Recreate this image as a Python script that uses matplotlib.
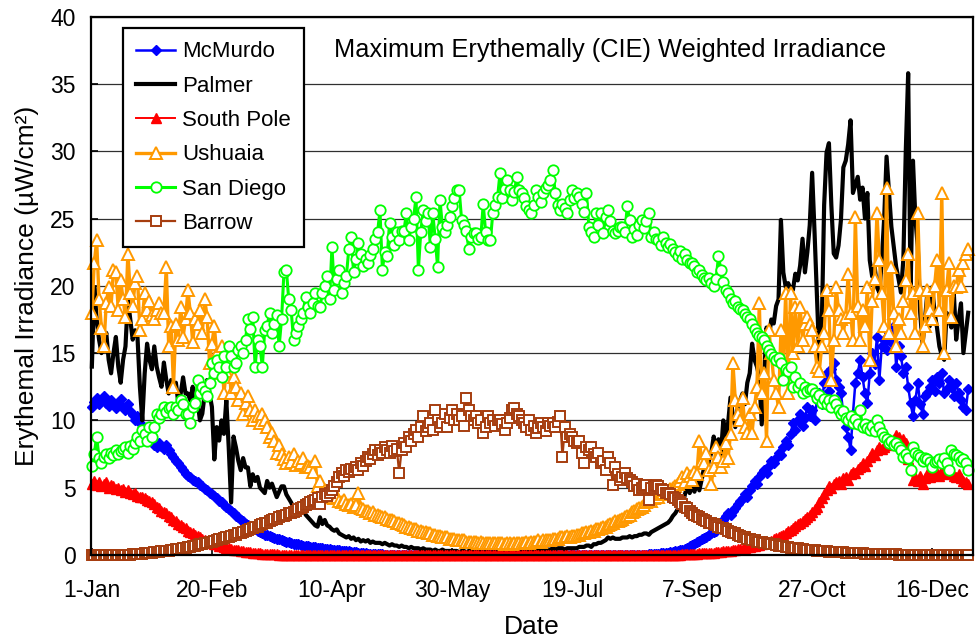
import numpy as np
import matplotlib
matplotlib.use("Agg")
import matplotlib.pyplot as plt

plt.rcParams['font.family'] = ['Liberation Sans', 'DejaVu Sans']

# ---------------- data (daily maxima, leap year, day 1 = 1-Jan) ----------------
tick_days = [1, 51, 101, 151, 201, 251, 301, 351]
tick_labels = ['1-Jan', '20-Feb', '10-Apr', '30-May', '19-Jul', '7-Sep', '27-Oct', '16-Dec']
y_ticks = [0, 5, 10, 15, 20, 25, 30, 35, 40]

mcmurdo = [
    11.0, 11.4, 11.7, 11.2, 11.5, 11.8, 11.3, 11.1, 11.5, 11.2,
    10.9, 11.3, 11.6, 11.0, 10.8, 11.2, 10.7, 10.4, 10.0, 10.3,
    9.8, 9.4, 9.0, 8.7, 9.1, 8.5, 8.2, 8.0, 8.3, 8.1,
    7.9, 8.2, 7.8, 7.5, 7.3, 7.0, 6.8, 6.5, 6.3, 6.0,
    5.9, 5.8, 5.6, 5.5, 5.4, 5.2, 5.1, 4.9, 4.8, 4.6,
    4.5, 4.4, 4.2, 4.0, 3.9, 3.7, 3.6, 3.4, 3.3, 3.1,
    2.9, 2.8, 2.6, 2.5, 2.3, 2.2, 2.1, 2.0, 1.9, 1.8,
    1.7, 1.6, 1.5, 1.45, 1.4, 1.3, 1.25, 1.2, 1.15, 1.1,
    1.05, 1.0, 0.95, 0.9, 0.85, 0.8, 0.78, 0.75, 0.7, 0.68,
    0.65, 0.62, 0.6, 0.57, 0.55, 0.52, 0.5, 0.47, 0.45, 0.42,
    0.4, 0.38, 0.36, 0.34, 0.32, 0.3, 0.28, 0.26, 0.24, 0.22,
    0.2, 0.18, 0.16, 0.14, 0.12, 0.1, 0.09, 0.08, 0.07, 0.06,
    0.05, 0.04, 0.03, 0.02, 0.01, 0, 0, 0, 0, 0,
    0, 0, 0, 0, 0, 0, 0, 0, 0, 0, 0, 0, 0, 0, 0, 0, 0, 0, 0, 0,
    0, 0, 0, 0, 0, 0, 0, 0, 0, 0, 0, 0, 0, 0, 0, 0, 0, 0, 0, 0,
    0, 0, 0, 0, 0, 0, 0, 0, 0, 0, 0, 0, 0, 0, 0, 0, 0, 0, 0, 0,
    0, 0, 0, 0, 0, 0, 0, 0, 0, 0, 0, 0, 0, 0, 0, 0, 0, 0, 0, 0,
    0, 0, 0, 0, 0, 0, 0, 0, 0, 0, 0, 0, 0, 0, 0, 0, 0, 0, 0, 0,
    0.02, 0.03, 0.04, 0.05, 0.06, 0.08, 0.1, 0.12, 0.14, 0.16,
    0.18, 0.2, 0.23, 0.26, 0.3, 0.35, 0.4, 0.48, 0.55, 0.65,
    0.75, 0.85, 0.95, 1.05, 1.15, 1.25, 1.35, 1.5, 1.6, 1.7,
    1.8, 2.0, 2.3, 2.6, 2.9, 3.1, 3.0, 3.3, 3.5, 3.8,
    4.0, 4.2, 4.5, 4.3, 4.8, 5.1, 5.5, 5.3, 5.8, 6.1,
    6.3, 6.1, 6.6, 7.0, 6.8, 7.2, 7.6, 7.4, 8.0, 8.5,
    8.2, 9.0, 9.8, 9.3, 10.0, 10.5, 9.6, 10.2, 11.0, 10.3,
    10.8, 10.0, 11.5, 12.0, 11.2, 12.8, 13.5, 12.2, 13.8, 14.3,
    13.0, 12.5, 12.0, 10.5, 9.5, 8.8, 7.8, 10.5, 12.8, 13.5,
    14.5, 13.2, 12.0, 11.3, 13.5, 15.0, 14.2, 16.2, 13.0, 15.5,
    16.0, 15.2, 16.5, 15.8, 17.0, 14.0, 15.5, 14.8, 13.5, 14.0,
    12.5, 11.3, 10.3, 11.5, 12.8, 11.2, 10.5, 11.8, 12.0, 12.5,
    13.0, 12.2, 13.2, 12.8, 13.5, 12.0, 12.3, 13.0, 12.5, 11.8,
    12.8, 12.0, 11.5, 11.0, 10.8, 12.3,
]

palmer = [
    14.0, 19.9, 17.5, 16.0, 15.0, 15.5, 16.5, 14.5, 13.5, 15.0,
    16.2, 14.0, 12.8, 14.5, 15.5, 19.0, 17.5, 16.0, 16.7, 16.2,
    12.5, 10.0, 13.5, 15.7, 14.5, 13.8, 15.5, 14.0, 13.2, 12.5,
    14.3, 13.0, 12.0, 13.0, 12.5, 12.8, 11.3, 12.0, 13.2, 12.0,
    12.0, 11.5, 12.5, 11.0, 11.5, 10.0, 10.5, 12.0, 13.0, 12.0,
    11.0, 7.1, 9.5, 8.5, 10.0, 9.0, 11.5, 8.0, 3.9, 8.8,
    8.0, 7.0, 6.3, 7.2, 6.5, 6.5, 5.1, 6.0, 5.5, 5.8,
    5.0, 4.8, 4.6, 5.5, 5.0, 5.3, 4.8, 4.3, 4.7, 5.1,
    5.1, 4.5, 4.2, 3.9, 3.5, 3.3, 3.1, 3.4, 3.6, 3.0,
    2.8, 2.6, 2.4, 2.2, 2.1, 2.8, 2.3, 2.6, 2.2, 2.1,
    1.9, 1.8, 1.9, 1.6, 1.5, 1.4, 1.3, 1.4, 1.2, 1.3,
    1.1, 1.2, 1.0, 1.1, 1.0, 1.1, 0.9, 1.0, 0.9, 0.9,
    0.9, 0.8, 0.9, 0.8, 0.7, 0.8, 0.7, 0.7, 0.6, 0.7,
    0.6, 0.6, 0.5, 0.6, 0.5, 0.5, 0.5, 0.4, 0.5, 0.4,
    0.4, 0.4, 0.3, 0.4, 0.3, 0.3, 0.4, 0.3, 0.3, 0.3,
    0.3, 0.3, 0.3, 0.2, 0.3, 0.3, 0.2, 0.3, 0.3, 0.2,
    0.2, 0.3, 0.2, 0.2, 0.3, 0.2, 0.2, 0.2, 0.3, 0.2,
    0.2, 0.2, 0.3, 0.2, 0.2, 0.3, 0.3, 0.2, 0.3, 0.3,
    0.3, 0.3, 0.3, 0.4, 0.3, 0.4, 0.4, 0.3, 0.4, 0.4,
    0.4, 0.4, 0.5, 0.4, 0.5, 0.5, 0.5, 0.4, 0.5, 0.5,
    0.5, 0.5, 0.5, 0.6, 0.6, 0.6, 0.7, 0.7, 0.6, 0.8,
    0.8, 0.9, 0.9, 1.0, 1.1, 1.3, 1.2, 1.3, 1.2, 1.2,
    1.2, 1.3, 1.3, 1.3, 1.4, 1.3, 1.4, 1.4, 1.5, 1.5,
    1.6, 1.6, 1.5, 1.7, 1.8, 1.9, 2.0, 2.1, 2.2, 2.3,
    2.4, 2.6, 2.9, 3.1, 3.4, 3.9, 3.6, 4.5, 5.1, 4.6,
    5.1, 4.7, 5.5, 4.8, 5.6, 6.5, 6.1, 7.0, 7.6, 8.8,
    8.0, 8.6, 7.5, 10.0, 8.5, 9.8, 11.7, 10.3, 9.5, 11.0,
    11.5, 12.0, 11.2, 12.8, 13.5, 15.7, 14.5, 14.0, 13.2, 9.7,
    13.2, 16.9, 16.2, 17.5, 17.2, 18.5, 19.0, 24.9, 21.0, 19.9,
    20.2, 19.8, 19.7, 20.9, 20.4, 21.5, 23.5, 21.0, 22.5, 24.5,
    28.4, 24.0, 19.3, 14.5, 16.9, 26.0, 29.9, 30.6, 26.0, 22.4,
    22.1, 23.0, 24.9, 28.8, 29.3, 30.5, 32.3, 26.9, 27.5, 28.1,
    26.4, 27.3, 25.0, 26.9, 21.9, 20.7, 21.5, 19.9, 19.5, 21.9,
    25.0, 29.6, 27.0, 24.4, 22.9, 21.4, 20.5, 19.5, 22.0, 30.0,
    35.8, 19.5, 29.3, 25.0, 22.9, 18.0, 15.7, 17.5, 19.5, 17.0,
    19.9, 18.0, 16.9, 15.5, 14.8, 14.5, 18.0, 17.5, 16.9, 19.5,
    16.0, 17.5, 18.7, 15.0, 16.5, 18.0,
]

south_pole = [
    5.3, 5.5, 5.2, 5.4, 5.1, 5.3, 5.4, 5.0, 5.2, 5.1,
    4.9, 5.0, 4.8, 4.9, 4.7, 4.8, 4.6, 4.5, 4.6, 4.4,
    4.3, 4.3, 4.2, 4.1, 4.0, 3.9, 3.8, 3.6, 3.5, 3.3,
    3.2, 3.1, 2.9, 2.8, 2.6, 2.5, 2.3, 2.2, 2.1, 2.0,
    1.8, 1.7, 1.6, 1.5, 1.4, 1.3, 1.2, 1.1, 1.0, 0.95,
    0.9, 0.85, 0.8, 0.7, 0.65, 0.6, 0.55, 0.5, 0.45, 0.4,
    0.37, 0.34, 0.31, 0.28, 0.25, 0.22, 0.2, 0.18, 0.16, 0.14,
    0.12, 0.1, 0.09, 0.08, 0.07, 0.06, 0.05, 0.04, 0.03, 0.02,
    0.01, 0, 0, 0, 0, 0, 0, 0, 0, 0,
    0, 0, 0, 0, 0, 0, 0, 0, 0, 0, 0, 0, 0, 0, 0, 0, 0, 0, 0, 0,
    0, 0, 0, 0, 0, 0, 0, 0, 0, 0, 0, 0, 0, 0, 0, 0, 0, 0, 0, 0,
    0, 0, 0, 0, 0, 0, 0, 0, 0, 0, 0, 0, 0, 0, 0, 0, 0, 0, 0, 0,
    0, 0, 0, 0, 0, 0, 0, 0, 0, 0, 0, 0, 0, 0, 0, 0, 0, 0, 0, 0,
    0, 0, 0, 0, 0, 0, 0, 0, 0, 0, 0, 0, 0, 0, 0, 0, 0, 0, 0, 0,
    0, 0, 0, 0, 0, 0, 0, 0, 0, 0, 0, 0, 0, 0, 0, 0, 0, 0, 0, 0,
    0, 0, 0, 0, 0, 0, 0, 0, 0, 0, 0, 0, 0, 0, 0, 0, 0, 0, 0, 0,
    0, 0, 0, 0, 0, 0, 0, 0, 0, 0,
    0.01, 0.01, 0.02, 0.02, 0.03, 0.03, 0.04, 0.05, 0.06, 0.07,
    0.08, 0.09, 0.1, 0.11, 0.12, 0.13, 0.14, 0.15, 0.16, 0.18,
    0.2, 0.22, 0.24, 0.26, 0.28, 0.3, 0.33, 0.36, 0.39, 0.42,
    0.45, 0.48, 0.52, 0.56, 0.6, 0.64, 0.68, 0.72, 0.77, 0.82,
    0.87, 0.93, 1.0, 1.07, 1.15, 1.23, 1.32, 1.42, 1.52, 1.63,
    1.75, 1.87, 2.0, 2.13, 2.27, 2.41, 2.55, 2.7, 2.85, 3.0,
    3.2, 3.4, 3.6, 3.9, 4.2, 4.5, 4.8, 5.1, 5.0, 5.3,
    5.4, 5.5, 5.3, 5.7, 5.8, 5.6, 6.0, 6.2, 6.1, 6.4,
    6.5, 6.8, 6.6, 7.0, 7.3, 7.6, 7.4, 7.8, 8.0, 7.9,
    8.0, 8.3, 8.5, 8.2, 8.6, 8.9, 8.8, 8.4, 8.6, 8.3,
    7.1, 6.5, 5.6, 5.8, 5.5, 5.9, 5.3, 5.7, 6.0, 5.8,
    6.0, 6.2, 6.1, 5.9, 6.3, 6.0, 6.3, 6.1, 6.2, 5.9,
    5.8, 6.0, 5.7, 5.5, 5.4, 5.3,
]

ushuaia = [
    18.0, 21.7, 23.4, 19.0, 16.9, 15.5, 18.7, 19.9, 18.5, 21.2,
    21.0, 18.2, 20.4, 19.0, 17.7, 22.4, 19.5, 18.5, 20.2, 20.7,
    16.7, 17.5, 19.5, 18.2, 18.9, 17.8, 17.5, 18.2, 18.7, 18.0,
    18.0, 21.4, 15.5, 17.0, 12.5, 17.2, 16.0, 18.4, 16.2, 17.5,
    19.7, 18.0, 15.8, 17.5, 17.2, 18.2, 16.5, 19.0, 17.7, 14.3,
    15.7, 17.0, 15.0, 13.5, 15.5, 12.0, 13.7, 14.5, 12.0, 13.2,
    12.5, 11.5, 12.0, 10.5, 11.3, 11.8, 10.8, 10.0, 10.8, 10.3,
    9.8, 10.5, 10.0, 9.5, 8.8, 9.1, 8.5, 7.6, 8.2, 7.5,
    7.1, 6.8, 7.3, 6.9, 7.5, 6.7, 7.0, 6.8, 7.2, 6.5,
    6.6, 6.5, 6.2, 7.0, 5.1, 5.5, 4.6, 4.8, 4.5, 4.3,
    4.3, 4.2, 4.3, 4.0, 3.9, 4.1, 3.8, 3.7, 3.8, 3.6,
    3.7, 4.6, 3.5, 3.4, 3.3, 3.3, 3.1, 3.2, 3.0, 3.0,
    2.9, 2.8, 2.8, 2.7, 2.6, 2.6, 2.5, 2.4, 2.4, 2.3,
    2.2, 2.1, 2.1, 2.0, 1.9, 1.9, 1.8, 1.8, 1.7, 1.7,
    1.6, 1.6, 1.5, 1.5, 1.4, 1.4, 1.3, 1.3, 1.3, 1.2,
    1.2, 1.2, 1.1, 1.1, 1.1, 1.1, 1.0, 1.0, 1.0, 1.0,
    1.0, 0.9, 1.0, 0.9, 0.9, 0.9, 0.9, 0.9, 0.9, 0.9,
    0.9, 0.9, 0.8, 0.9, 0.9, 0.8, 0.9, 0.9, 0.9, 0.9,
    0.9, 1.0, 0.9, 1.0, 1.0, 1.0, 1.1, 1.0, 1.1, 1.1,
    1.1, 1.1, 1.2, 1.2, 1.2, 1.3, 1.3, 1.3, 1.4, 1.3,
    1.4, 1.4, 1.5, 1.5, 1.6, 1.6, 1.7, 1.7, 1.8, 1.8,
    1.9, 1.9, 2.0, 2.1, 2.1, 2.2, 2.3, 2.4, 2.5, 2.5,
    2.6, 2.7, 2.8, 2.9, 3.0, 3.2, 3.3, 3.4, 3.5, 3.6,
    3.7, 3.9, 4.1, 4.0, 4.2, 4.4, 4.3, 4.5, 4.6, 4.8,
    4.7, 4.9, 5.0, 5.1, 5.3, 5.5, 5.8, 5.4, 6.1, 5.9,
    5.6, 6.2, 6.0, 8.5, 7.0, 6.8, 7.6, 6.3, 5.3, 6.5,
    8.0, 7.3, 6.5, 7.0, 8.3, 7.2, 9.0, 14.3, 11.5, 10.5,
    10.0, 11.7, 9.5, 9.1, 10.5, 9.1, 11.0, 12.5, 18.7, 12.0,
    13.5, 8.5, 16.7, 15.0, 13.0, 12.0, 11.0, 16.7, 14.5, 19.5,
    12.0, 19.5, 15.0, 18.4, 15.5, 18.4, 16.0, 17.2, 17.7, 17.2,
    16.7, 15.5, 14.0, 13.7, 15.5, 16.5, 19.7, 18.2, 13.0, 16.0,
    19.9, 18.2, 17.5, 16.5, 17.7, 20.9, 18.0, 16.0, 25.1, 18.5,
    16.0, 18.2, 17.0, 19.9, 14.5, 18.9, 20.5, 25.4, 21.9, 19.5,
    17.0, 27.3, 16.5, 21.4, 18.0, 15.5, 17.5, 16.5, 18.9, 20.4,
    22.4, 18.0, 19.5, 16.5, 25.4, 19.7, 15.5, 17.0, 19.7, 18.2,
    17.5, 20.0, 21.9, 18.2, 26.9, 15.0, 19.7, 21.7, 17.7, 20.0,
    19.9, 21.2, 20.0, 21.7, 22.4, 22.7,
]

san_diego = [
    6.6, 7.5, 8.8, 7.2, 6.8, 7.3, 7.5, 7.2, 7.6, 7.4,
    7.8, 7.5, 7.7, 7.9, 8.0, 7.6, 8.1, 7.9, 8.3, 8.8,
    8.5, 9.3, 9.0, 8.5, 9.5, 8.8, 9.5, 10.5, 10.2, 10.5,
    11.0, 10.6, 10.9, 11.0, 10.5, 11.0, 10.8, 11.5, 11.2, 10.5,
    10.5, 9.8, 11.0, 11.3, 13.0, 12.0, 12.5, 12.2, 11.8, 12.8,
    14.3, 13.5, 14.5, 14.0, 13.2, 14.8, 14.0, 15.5, 14.8, 14.0,
    14.3, 15.2, 15.5, 15.0, 16.0, 17.5, 16.8, 17.7, 14.0, 16.0,
    15.5, 14.0, 16.7, 17.0, 18.0, 16.5, 17.2, 17.8, 15.5, 17.5,
    21.0, 21.2, 19.0, 18.2, 16.0, 16.5, 17.0, 17.5, 18.0, 19.2,
    18.4, 18.0, 18.7, 19.5, 18.5, 18.4, 19.5, 20.0, 20.7, 19.0,
    22.9, 19.7, 20.5, 21.2, 19.5, 20.2, 20.7, 22.7, 23.6, 21.0,
    22.0, 23.2, 22.4, 21.5, 22.0, 21.7, 22.3, 22.7, 23.5, 24.0,
    25.6, 21.2, 22.5, 22.2, 24.7, 23.6, 23.0, 24.0, 23.4, 24.1,
    24.1, 25.4, 23.4, 24.4, 25.0, 26.6, 21.2, 24.0, 25.6, 24.8,
    25.4, 22.9, 25.4, 23.5, 21.4, 26.4, 24.4, 24.0, 24.5, 25.1,
    25.9, 26.5, 27.1, 27.1, 24.9, 24.5, 24.1, 22.7, 23.6, 23.9,
    23.9, 23.5, 23.6, 26.1, 24.0, 23.4, 23.4, 25.4, 26.0, 26.6,
    28.4, 26.5, 27.2, 27.9, 27.1, 26.4, 27.0, 28.1, 27.1, 26.9,
    26.5, 25.9, 25.6, 25.4, 26.0, 27.1, 26.6, 26.2, 26.9, 27.3,
    27.5, 27.9, 28.6, 26.9, 26.0, 25.6, 26.1, 25.8, 25.4, 26.4,
    27.1, 26.5, 26.9, 26.6, 26.1, 25.5, 26.9, 24.4, 24.0, 23.6,
    25.4, 24.5, 25.4, 23.9, 25.1, 25.6, 24.8, 24.1, 23.9, 24.1,
    24.4, 24.4, 24.0, 25.9, 24.9, 23.6, 24.2, 23.8, 24.5, 24.9,
    24.3, 24.8, 25.4, 23.6, 24.0, 23.5, 23.4, 23.0, 23.6, 23.2,
    22.9, 23.1, 22.7, 22.5, 22.2, 22.6, 22.0, 22.4, 21.9, 21.7,
    21.7, 21.5, 21.0, 21.2, 20.8, 20.6, 20.4, 20.6, 20.2, 20.0,
    20.5, 22.2, 21.2, 20.3, 19.7, 19.5, 19.0, 18.7, 18.9, 18.4,
    18.3, 18.2, 17.9, 17.7, 17.5, 17.2, 16.8, 16.5, 16.3, 16.2,
    16.0, 15.5, 15.2, 14.9, 14.7, 14.5, 14.6, 14.3, 13.0, 13.8,
    13.7, 14.0, 12.5, 13.2, 12.5, 12.8, 12.0, 12.5, 12.2, 12.3,
    12.3, 12.0, 11.7, 11.9, 11.3, 11.6, 11.2, 11.5, 11.0, 11.5,
    11.2, 10.8, 10.5, 10.7, 10.2, 10.0, 10.3, 9.8, 10.1, 9.7,
    10.8, 9.5, 9.7, 9.4, 9.3, 9.6, 9.2, 10.0, 9.5, 9.1,
    8.8, 8.6, 8.3, 8.5, 8.2, 8.3, 8.0, 7.8, 7.3, 7.5,
    7.2, 6.3, 8.0, 7.6, 7.4, 7.3, 7.0, 7.2, 7.1, 6.9,
    6.5, 6.9, 7.0, 7.1, 6.8, 7.2, 6.8, 6.3, 7.8, 7.5,
    7.4, 7.3, 7.0, 7.1, 6.8, 6.3,
]

barrow = [
    0, 0, 0, 0, 0, 0, 0, 0, 0, 0,
    0, 0, 0, 0, 0.01, 0.02, 0.03, 0.04, 0.05, 0.06,
    0.08, 0.1, 0.12, 0.14, 0.16, 0.18, 0.2, 0.22, 0.24, 0.26,
    0.28, 0.3, 0.33, 0.36, 0.39, 0.42, 0.45, 0.48, 0.51, 0.55,
    0.58, 0.62, 0.66, 0.7, 0.74, 0.78, 0.82, 0.86, 0.9, 0.95,
    1.0, 1.05, 1.1, 1.15, 1.2, 1.25, 1.3, 1.35, 1.4, 1.45,
    1.5, 1.6, 1.65, 1.7, 1.8, 1.85, 1.9, 2.0, 2.05, 2.1,
    2.2, 2.3, 2.35, 2.4, 2.5, 2.6, 2.65, 2.7, 2.8, 2.9,
    2.9, 3.0, 3.1, 3.15, 3.2, 3.3, 3.4, 3.5, 3.6, 3.7,
    3.8, 3.9, 4.0, 4.1, 4.2, 3.8, 4.3, 4.5, 4.4, 4.6,
    4.8, 5.1, 5.4, 5.8, 6.1, 5.9, 6.3, 6.2, 6.4, 6.3,
    6.5, 6.3, 6.8, 6.6, 7.0, 7.3, 7.1, 7.5, 7.8, 7.4,
    7.8, 7.6, 8.0, 7.8, 7.6, 8.1, 7.7, 7.9, 6.1, 7.8,
    8.3, 8.0, 8.8, 8.5, 9.0, 9.3, 8.8, 9.5, 10.3, 9.2,
    9.5, 9.8, 9.3, 10.8, 10.0, 9.5, 9.8, 10.5, 9.5, 10.2,
    10.8, 10.0, 10.5, 10.0, 10.3, 9.6, 11.7, 10.8, 10.3, 10.0,
    10.3, 9.8, 10.0, 9.1, 9.5, 10.3, 9.8, 10.0, 9.6, 10.0,
    10.0, 9.7, 9.3, 9.8, 10.2, 10.8, 10.9, 10.5, 10.3, 10.0,
    9.8, 9.5, 10.0, 9.3, 9.6, 9.1, 9.4, 9.8, 9.5, 9.2,
    9.8, 9.6, 9.8, 9.5, 9.9, 10.3, 7.3, 9.5, 8.8, 9.0,
    8.8, 8.5, 8.3, 8.5, 7.6, 6.8, 8.0, 7.8, 8.0, 7.5,
    7.3, 7.6, 6.8, 7.0, 6.3, 7.3, 6.8, 5.2, 6.5, 6.0,
    5.6, 5.8, 6.1, 5.7, 5.6, 5.4, 5.1, 5.3, 4.8, 5.0,
    5.1, 5.2, 4.1, 5.0, 5.1, 5.2, 5.1, 4.9, 4.8, 4.6,
    4.6, 4.5, 4.3, 4.2, 4.1, 3.9, 3.8, 3.6, 3.5, 3.3,
    3.1, 3.0, 2.9, 2.8, 2.7, 2.6, 2.5, 2.4, 2.4, 2.3,
    2.2, 2.1, 2.0, 2.0, 1.9, 1.8, 1.7, 1.6, 1.6, 1.5,
    1.4, 1.3, 1.3, 1.2, 1.2, 1.1, 1.1, 1.0, 1.0, 0.95,
    0.9, 0.9, 0.85, 0.8, 0.8, 0.75, 0.7, 0.7, 0.65, 0.6,
    0.6, 0.55, 0.55, 0.5, 0.5, 0.45, 0.45, 0.4, 0.4, 0.38,
    0.36, 0.34, 0.32, 0.3, 0.28, 0.27, 0.26, 0.25, 0.24, 0.23,
    0.22, 0.21, 0.2, 0.19, 0.18, 0.17, 0.16, 0.15, 0.14, 0.13,
    0.12, 0.11, 0.1, 0.1, 0.09, 0.09, 0.08, 0.08, 0.07, 0.07,
    0.06, 0.06, 0.05, 0.05, 0.04, 0.04, 0.03, 0.03, 0.02, 0.02,
    0.01, 0.01, 0.01, 0.01, 0.01, 0.01, 0.01, 0.01, 0.01, 0.01,
    0, 0, 0, 0, 0, 0, 0, 0, 0, 0,
    0, 0, 0, 0, 0, 0,
]

series_names = ['McMurdo', 'Palmer', 'South Pole', 'Ushuaia', 'San Diego', 'Barrow']

# ---------------- figure ----------------
fig = plt.figure(figsize=(9.77, 6.39), dpi=100)
ax = fig.add_axes([0.0928, 0.1315, 0.9031, 0.8424])


def days(s):
    return np.arange(1, len(s) + 1)


styles = [
    (mcmurdo, dict(color='#0000FF', marker='D', ms=5.5, mfc='#0000FF', mec='#0000FF', lw=1.8)),
    (palmer, dict(color='black', lw=3.0)),
    (south_pole, dict(color='#FF0000', marker='^', ms=7.5, mfc='#FF0000', mec='#FF0000', lw=1.4)),
    (ushuaia, dict(color='#FF9900', marker='^', ms=8.0, mfc='white', mec='#FF9900', mew=1.4, lw=2.4)),
    (san_diego, dict(color='#00FF00', marker='o', ms=7.5, mfc='white', mec='#00FF00', mew=1.3, lw=2.2)),
    (barrow, dict(color='#A63D0F', marker='s', ms=7.0, mfc='white', mec='#A63D0F', mew=1.4, lw=1.6)),
]

handles = []
for i, ((data, st), name) in enumerate(zip(styles, series_names)):
    h, = ax.plot(days(data), data, label=name, clip_on=False, zorder=3 + i, **st)
    handles.append(h)

ax.set_xlim(0.5, 368)
ax.set_ylim(0, 40)
ax.set_xticks(tick_days)
ax.set_xticklabels(tick_labels)
ax.set_yticks(y_ticks)

ax.yaxis.grid(True, color='#303030', lw=0.9)
ax.set_axisbelow(True)
for sp in ax.spines.values():
    sp.set_linewidth(1.6)
    sp.set_color('black')
    sp.set_zorder(20)

ax.tick_params(axis='both', direction='in', length=5, width=1.2, labelsize=16.5)
ax.tick_params(axis='y', pad=11)
ax.tick_params(axis='x', pad=17)

ax.set_xlabel('Date', fontsize=19, labelpad=10)
ax.set_ylabel('Erythemal Irradiance (µW/cm²)', fontsize=19, labelpad=8)

ax.text(0.589, 0.925, 'Maximum Erythemally (CIE) Weighted Irradiance',
        transform=ax.transAxes, ha='center', va='baseline', fontsize=18.3, zorder=30)

leg = ax.legend(handles=handles, loc='upper left', bbox_to_anchor=(0.0366, 0.979),
                borderaxespad=0, fontsize=16, frameon=True, fancybox=False,
                handlelength=1.75, handletextpad=0.3, labelspacing=0.6, borderpad=0.6,
                framealpha=1)
leg.get_frame().set_edgecolor('black')
leg.get_frame().set_linewidth(1.6)
leg.set_zorder(40)

fig.savefig('out.png', dpi=100)
